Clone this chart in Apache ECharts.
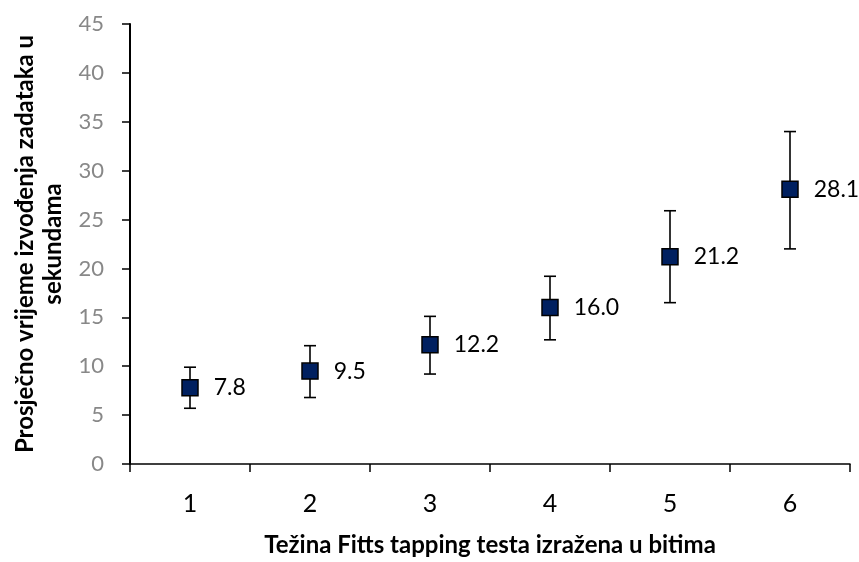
<!DOCTYPE html>
<html>
<head>
<meta charset="utf-8">
<script src="https://cdn.jsdelivr.net/npm/echarts@6/dist/echarts.min.js"></script>
<style>
html,body{margin:0;padding:0;background:#fff;}
#chart{width:859px;height:562px;}
</style>
</head>
<body>
<div id="chart"></div>
<script>
const categories = ['1', '2', '3', '4', '5', '6'];
const means = [7.8, 9.5, 12.2, 16.0, 21.2, 28.1];
const errLow = [5.7, 6.8, 9.2, 12.7, 16.5, 22.0];
const errHigh = [9.9, 12.1, 15.1, 19.2, 25.9, 34.0];
const yTicks = { min: 0, max: 45, interval: 5 };
const xTitle = 'Težina Fitts tapping testa izražena u bitima';
const yTitle = 'Prosječno vrijeme izvođenja zadataka u\nsekundama';

const chart = echarts.init(document.getElementById('chart'), null, { renderer: 'canvas' });
const FONT = 'Lato';

const errData = categories.map((c, i) => [i, errLow[i], errHigh[i]]);

chart.setOption({
  animation: false,
  backgroundColor: '#ffffff',
  grid: { left: 130, right: 9, top: 24, bottom: 95, containLabel: false },
  xAxis: {
    type: 'category',
    data: categories,
    boundaryGap: true,
    axisLine: { lineStyle: { color: '#000', width: 1.5 } },
    axisTick: { show: true, length: 8, alignWithLabel: false, lineStyle: { color: '#000', width: 1.5 } },
    axisLabel: { fontFamily: FONT, fontSize: 25, color: '#000', margin: 27 },
    splitLine: { show: false },
    name: xTitle,
    nameLocation: 'middle',
    nameGap: 69,
    nameTextStyle: { fontFamily: FONT, fontSize: 24, fontWeight: 'bold', color: '#000' }
  },
  yAxis: {
    type: 'value',
    min: yTicks.min,
    max: yTicks.max,
    interval: yTicks.interval,
    axisLine: { show: true, lineStyle: { color: '#000', width: 2 } },
    axisTick: { show: true, length: 8, lineStyle: { color: '#000', width: 1.5 } },
    axisLabel: { fontFamily: FONT, fontSize: 22, color: '#888888', margin: 26 },
    splitLine: { show: false },
    name: yTitle,
    nameLocation: 'middle',
    nameRotate: 90,
    nameGap: 62,
    nameTextStyle: { fontFamily: FONT, fontSize: 24, fontWeight: 'bold', color: '#000', lineHeight: 28, align: 'center' }
  },
  series: [
    {
      type: 'custom',
      name: 'err',
      z: 2,
      data: errData,
      renderItem: function (params, api) {
        const x = api.value(0);
        const lo = api.coord([x, api.value(1)]);
        const hi = api.coord([x, api.value(2)]);
        const hw = 6;
        const style = { stroke: '#000', lineWidth: 1.6 };
        return {
          type: 'group',
          children: [
            { type: 'line', shape: { x1: lo[0], y1: lo[1], x2: hi[0], y2: hi[1] }, style: style },
            { type: 'line', shape: { x1: lo[0] - hw, y1: lo[1], x2: lo[0] + hw, y2: lo[1] }, style: style },
            { type: 'line', shape: { x1: hi[0] - hw, y1: hi[1], x2: hi[0] + hw, y2: hi[1] }, style: style }
          ]
        };
      }
    },
    {
      type: 'scatter',
      z: 5,
      data: means,
      symbol: 'rect',
      symbolSize: 16,
      itemStyle: { color: '#002060', borderColor: '#000', borderWidth: 1.5, opacity: 1 },
      label: {
        show: true,
        position: 'right',
        distance: 15,
        fontFamily: FONT,
        fontSize: 23,
        color: '#000',
        formatter: function (p) { return Number(p.value).toFixed(1); }
      }
    }
  ]
});
</script>
</body>
</html>
